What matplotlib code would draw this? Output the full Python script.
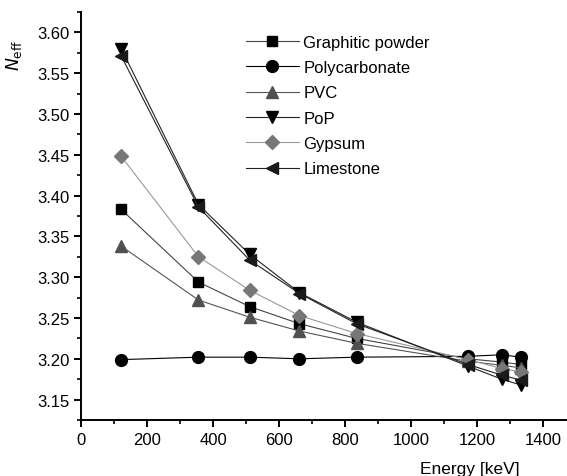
import matplotlib
matplotlib.use("Agg")
import matplotlib.pyplot as plt
from matplotlib.ticker import MultipleLocator

plt.rcParams['font.family'] = ['Liberation Sans', 'DejaVu Sans']

energy = [122, 356, 511, 662, 835, 1173, 1275, 1332]

graphitic = [3.383, 3.294, 3.264, 3.243, 3.225, 3.200, 3.196, 3.193]
polycarbonate = [3.199, 3.202, 3.202, 3.200, 3.202, 3.203, 3.205, 3.202]
pvc = [3.338, 3.272, 3.251, 3.234, 3.219, 3.197, 3.192, 3.189]
pop = [3.580, 3.389, 3.328, 3.281, 3.245, 3.191, 3.175, 3.168]
gypsum = [3.448, 3.325, 3.284, 3.253, 3.231, 3.199, 3.188, 3.184]
limestone = [3.571, 3.386, 3.321, 3.280, 3.243, 3.193, 3.180, 3.174]

names = ["Graphitic powder", "Polycarbonate", "PVC", "PoP", "Gypsum", "Limestone"]

fig = plt.figure(figsize=(5.67, 4.77), dpi=100)
ax = fig.add_axes([81/567, 56/477, 495/567, 408/477])

ax.plot(energy, graphitic, color='#444444', lw=0.8, marker='s', ms=7.5,
        mfc='black', mec='black', label=names[0])
ax.plot(energy, polycarbonate, color='black', lw=0.8, marker='o', ms=8.5,
        mfc='black', mec='black', label=names[1])
ax.plot(energy, pvc, color='#555555', lw=0.8, marker='^', ms=8.5,
        mfc='#505050', mec='#505050', label=names[2])
ax.plot(energy, pop, color='#222222', lw=0.8, marker='v', ms=8.5,
        mfc='black', mec='black', label=names[3])
ax.plot(energy, gypsum, color='#999999', lw=0.8, marker='D', ms=7,
        mfc='#777777', mec='#777777', label=names[4])
ax.plot(energy, limestone, color='#222222', lw=0.8, marker='<', ms=8.5,
        mfc='#1a1a1a', mec='#1a1a1a', label=names[5])

ax.set_xlim(0, 1500)
ax.set_ylim(3.125, 3.625)
ax.xaxis.set_major_locator(MultipleLocator(200))
ax.xaxis.set_minor_locator(MultipleLocator(100))
ax.yaxis.set_major_locator(MultipleLocator(0.05))
ax.yaxis.set_minor_locator(MultipleLocator(0.025))
ax.yaxis.set_major_formatter(plt.FormatStrFormatter('%.2f'))

for s in ['top', 'right']:
    ax.spines[s].set_visible(False)
for s in ['left', 'bottom']:
    ax.spines[s].set_linewidth(1.4)

ax.tick_params(which='major', direction='out', length=5, width=1.4, labelsize=12)
ax.tick_params(which='minor', direction='out', length=3, width=1.2)

fig.text(470/567, 1 - 470/477, "Energy [keV]", ha='center', va='center', fontsize=12.5)
fig.text(14/567, 1 - 55/477, r"$\mathit{N}_{\mathrm{eff}}$", ha='center', va='center',
         rotation=90, fontsize=12.5)

ax.legend(loc='upper left', bbox_to_anchor=(158/495, 1 - 16/408), frameon=False,
          fontsize=12, handlelength=3.2, handletextpad=0.25, labelspacing=0.62,
          borderaxespad=0)

fig.savefig("out.png", dpi=100)
